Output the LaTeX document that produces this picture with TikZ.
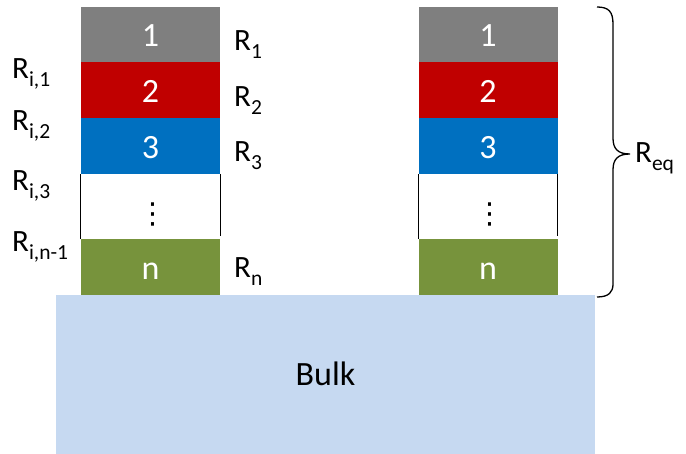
\documentclass[tikz,border=0pt]{standalone}
\usepackage{fontspec}
\setmainfont{Carlito}
\newfontfamily\symfont{DejaVu Sans}
\definecolor{layergrey}{HTML}{7F7F7F}
\definecolor{layerred}{HTML}{C00000}
\definecolor{layerblue}{HTML}{0070C0}
\definecolor{layergreen}{HTML}{77933C}
\definecolor{bulkblue}{HTML}{C6D9F1}
% resistance label with a lowered subscript
\newcommand{\rlab}[1]{R\raisebox{-7.5pt}{\fontsize{21.5}{21.5}\selectfont #1}}
\begin{document}
\begin{tikzpicture}[x=1pt,y=-1pt,
  layer/.style={draw=none,inner sep=0pt,minimum width=139pt,text=white,
    font=\fontsize{34}{34}\selectfont,text height=25pt,text depth=0pt},
  rtext/.style={anchor=base west,inner sep=0pt,font=\fontsize{31}{31}\selectfont},
  dotstext/.style={inner sep=0pt,font=\symfont\fontsize{29}{29}\selectfont},
  sideline/.style={line width=1.1pt,black},
  bracestyle/.style={line width=1.3pt,black}]
\useasboundingbox (0,0) rectangle (686,454);

% substrate
\node[fill=bulkblue,inner sep=0pt,minimum width=539pt,minimum height=159pt,
  font=\fontsize{34}{34}\selectfont,text height=22pt,text depth=0pt] (bulk) at (325.5,374.5) {Bulk};

% left stack
\node[layer,fill=layergrey,minimum height=55pt]  (a1) at (150.5,34.5)  {1};
\node[layer,fill=layerred,minimum height=56pt]   (a2) at (150.5,90)    {2};
\node[layer,fill=layerblue,minimum height=56pt]  (a3) at (150.5,146)   {3};
\node[layer,fill=white,minimum height=65pt]      (a4) at (150.5,206.5) {};
\node[layer,fill=layergreen,minimum height=56pt] (a5) at (150.5,267)   {n};
\node[dotstext] (ad) at (153,214) {⋮};
\draw[sideline] (a4.north west) -- (a4.south west);
\draw[sideline] (a4.north east) -- ([yshift=3pt]a4.south east);

% right stack
\node[layer,fill=layergrey,minimum height=55pt]  (b1) at (488,34.5)  {1};
\node[layer,fill=layerred,minimum height=56pt]   (b2) at (488,90)    {2};
\node[layer,fill=layerblue,minimum height=56pt]  (b3) at (488,146)   {3};
\node[layer,fill=white,minimum height=65pt]      (b4) at (488,206.5) {};
\node[layer,fill=layergreen,minimum height=56pt] (b5) at (488,267)   {n};
\node[dotstext] (bd) at (490,214) {⋮};
\draw[sideline] (b4.north west) -- (b4.south west);
\draw[sideline] (b4.north east) -- ([yshift=3pt]b4.south east);

% interface resistances
\node[rtext] (ri1) at (12,79)  {\rlab{i,1}};
\node[rtext] (ri2) at (12,131) {\rlab{i,2}};
\node[rtext] (ri3) at (12,191) {\rlab{i,3}};
\node[rtext] (rin) at (12,252) {\rlab{i,n-1}};

% layer resistances
\node[rtext] (r1) at (234,51)  {\rlab{1}};
\node[rtext] (r2) at (234,107) {\rlab{2}};
\node[rtext] (r3) at (234,162) {\rlab{3}};
\node[rtext] (rn) at (234,278) {\rlab{n}};

% equivalent resistance brace
\coordinate (btop) at (597,7);
\coordinate (btip) at (630,154);
\coordinate (bbot) at (597,297);
\draw[bracestyle] (btop) .. controls (609,7) and (613,12) .. (613,24)
  -- (613,138) .. controls (613,149) and (618,154) .. (btip)
  .. controls (618,154) and (613,159) .. (613,170)
  -- (613,284) .. controls (613,292) and (609,297) .. (bbot);
\node[rtext] (req) at (635,163) {\rlab{eq}};
\end{tikzpicture}
\end{document}
